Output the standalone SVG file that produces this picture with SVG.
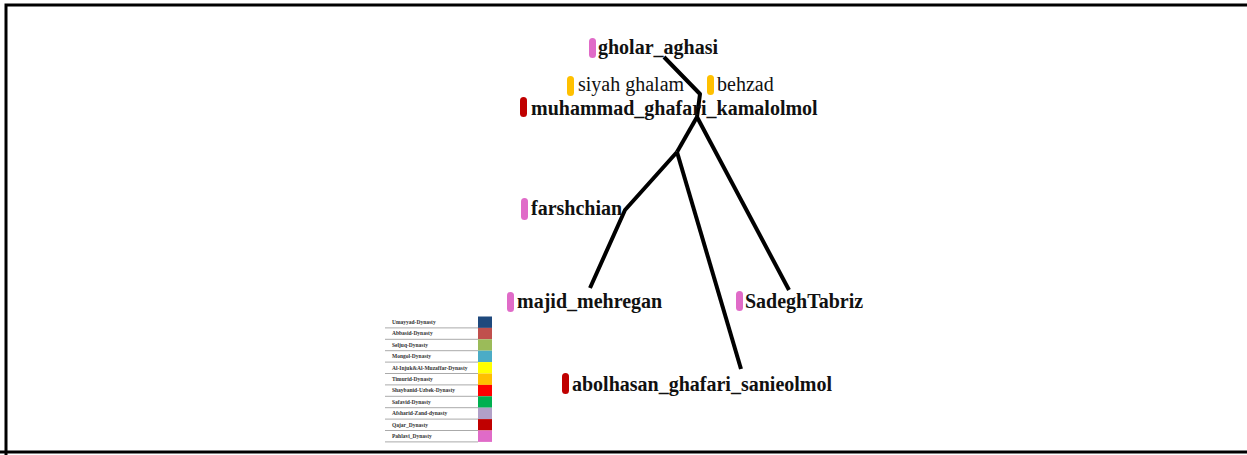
<svg xmlns="http://www.w3.org/2000/svg" width="1247" height="455" viewBox="0 0 1247 455">
<style>
.lbl{font-family:"Liberation Serif","Times New Roman",serif;font-size:20px;font-weight:bold;fill:#111}
.lblr{font-family:"Liberation Serif","Times New Roman",serif;font-size:20px;fill:#111}
.edge{fill:none;stroke:#000;stroke-width:4;stroke-linejoin:round}
.lg{font-family:"Liberation Serif","Times New Roman",serif;font-size:5.5px;font-weight:bold;fill:#333}
.lgl{stroke:#aaa;stroke-width:1}
</style>
<rect width="1247" height="455" fill="#fff"/>
<path d="M6,455 V5 H1247 M0,452 H1247" fill="none" stroke="#000" stroke-width="3"/>
<g id="connectors">
<path class="edge" d="M664,57 L700,94 L697,117"/>
<path class="edge" d="M697,117 L677,152"/>
<path class="edge" d="M697,117 L789,290"/>
<path class="edge" d="M677,152 L625,210 L590,288"/>
<path class="edge" d="M677,152 L741,369"/>
</g>
<g id="gholar_aghasi"><rect x="589" y="38" width="7" height="20" rx="3.5" fill="#e06bc8"/><text class="lbl" x="598" y="54">gholar_aghasi</text></g>
<g id="siyah_ghalam"><rect x="567" y="76" width="7" height="20" rx="3.5" fill="#ffc000"/><text class="lblr" x="578" y="91">siyah ghalam</text></g>
<g id="behzad"><rect x="707" y="75" width="7" height="20" rx="3.5" fill="#ffc000"/><text class="lblr" x="717" y="91">behzad</text></g>
<g id="muhammad_ghafari_kamalolmol"><rect x="520" y="97" width="7" height="20" rx="3.5" fill="#c00000"/><text class="lbl" x="531" y="115">muhammad_ghafari_kamalolmol</text></g>
<g id="farshchian"><rect x="521" y="198" width="7" height="22" rx="3.5" fill="#e06bc8"/><text class="lbl" x="531" y="215">farshchian</text></g>
<g id="majid_mehregan"><rect x="507" y="292" width="7" height="20" rx="3.5" fill="#e06bc8"/><text class="lbl" x="517" y="308">majid_mehregan</text></g>
<g id="SadeghTabriz"><rect x="736" y="291" width="7" height="20" rx="3.5" fill="#e06bc8"/><text class="lbl" x="745" y="308">SadeghTabriz</text></g>
<g id="abolhasan_ghafari_sanieolmol"><rect x="562" y="373" width="7" height="21" rx="3.5" fill="#c00000"/><text class="lbl" x="572" y="391">abolhasan_ghafari_sanieolmol</text></g>
<g id="legend">
<rect x="478" y="316.5" width="14" height="11.4" fill="#1f497d"/>
<rect x="478" y="327.9" width="14" height="11.4" fill="#c0504d"/>
<rect x="478" y="339.3" width="14" height="11.4" fill="#9bbb59"/>
<rect x="478" y="350.7" width="14" height="11.4" fill="#4bacc6"/>
<rect x="478" y="362.1" width="14" height="11.4" fill="#ffff00"/>
<rect x="478" y="373.5" width="14" height="11.4" fill="#ffc000"/>
<rect x="478" y="384.9" width="14" height="11.4" fill="#ff0000"/>
<rect x="478" y="396.3" width="14" height="11.4" fill="#00b050"/>
<rect x="478" y="407.7" width="14" height="11.4" fill="#b1a0c7"/>
<rect x="478" y="419.1" width="14" height="11.4" fill="#c00000"/>
<rect x="478" y="430.5" width="14" height="11.4" fill="#e06bc8"/>
<path class="lgl" d="M385,327.9H478M385,339.3H478M385,350.7H478M385,362.1H478M385,373.5H478M385,384.9H478M385,396.3H478M385,407.7H478M385,419.1H478M385,430.5H478M385,441.9H478"/>
<text class="lg" x="392" y="324">Umayyad-Dynasty</text>
<text class="lg" x="392" y="335.4">Abbasid-Dynasty</text>
<text class="lg" x="392" y="346.8">Seljuq-Dynasty</text>
<text class="lg" x="392" y="358.2">Mongol-Dynasty</text>
<text class="lg" x="392" y="369.6">Al-Injuk&amp;Al-Muzaffar-Dynasty</text>
<text class="lg" x="392" y="381">Timurid-Dynasty</text>
<text class="lg" x="392" y="392.4">Shaybanid-Uzbek-Dynasty</text>
<text class="lg" x="392" y="403.8">Safavid-Dynasty</text>
<text class="lg" x="392" y="415.2">Afsharid-Zand-dynasty</text>
<text class="lg" x="392" y="426.6">Qajar_Dynasty</text>
<text class="lg" x="392" y="438">Pahlavi_Dynasty</text>
</g>
</svg>
